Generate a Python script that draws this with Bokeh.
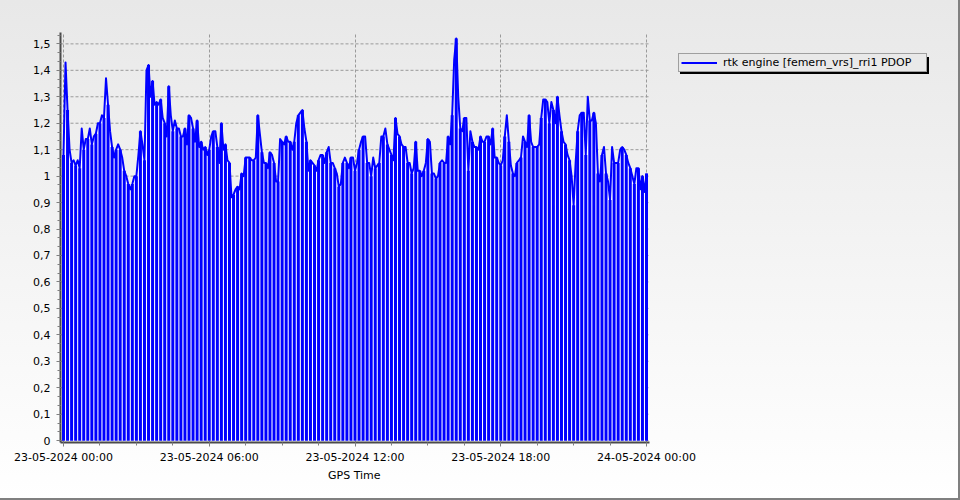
from bokeh.plotting import figure
from bokeh.models import Range1d, FixedTicker, Legend, LegendItem, Title
from bokeh.embed import file_html
from bokeh.resources import INLINE

# PDOP every 5 minutes, 23-05-2024 00:00 .. 24-05-2024 00:00 (one row per hour)
pdop = [
    1.08, 1.43, 1.25, 1.10, 1.05, 1.06, 1.04, 1.06, 1.03, 1.18, 1.10, 1.14,
    1.14, 1.18, 1.12, 1.15, 1.16, 1.20, 1.20, 1.23, 1.22, 1.37, 1.27, 1.17,
    1.11, 1.07, 1.10, 1.12, 1.10, 1.07, 1.02, 1.00, 0.97, 0.95, 0.97, 1.00,
    1.00, 1.08, 1.17, 1.12, 1.06, 1.40, 1.42, 1.30, 1.36, 1.27, 1.28, 1.27,
    1.29, 1.22, 1.20, 1.15, 1.34, 1.23, 1.17, 1.21, 1.18, 1.18, 1.15, 1.15,
    1.18, 1.12, 1.23, 1.22, 1.18, 1.13, 1.21, 1.11, 1.13, 1.10, 1.11, 1.08,
    1.10, 1.15, 1.17, 1.17, 1.11, 1.05, 1.20, 1.10, 1.12, 1.06, 1.05, 0.92,
    0.93, 0.95, 0.96, 0.95, 1.01, 1.00, 1.07, 1.07, 1.07, 1.06, 1.06, 1.07,
    1.23, 1.16, 1.09, 1.05, 1.05, 1.03, 1.09, 1.08, 1.05, 0.98, 0.98, 1.14,
    1.13, 1.12, 1.15, 1.13, 1.13, 1.10, 1.13, 1.20, 1.23, 1.24, 1.25, 1.18,
    1.13, 1.02, 1.06, 1.05, 1.04, 1.02, 1.06, 1.08, 1.08, 1.05, 1.09, 1.11,
    1.05, 1.05, 1.03, 1.01, 0.96, 0.97, 1.05, 1.07, 1.05, 1.03, 1.07, 1.07,
    1.02, 1.05, 1.10, 1.13, 1.15, 1.15, 1.05, 1.05, 1.00, 1.07, 1.03, 1.04,
    1.05, 1.15, 1.15, 1.18, 1.12, 1.10, 1.08, 1.06, 1.22, 1.16, 1.15, 1.12,
    1.11, 1.11, 1.05, 1.05, 1.01, 1.03, 1.13, 1.02, 1.02, 1.00, 1.02, 1.05,
    1.14, 1.13, 1.01, 1.01, 0.99, 1.00, 1.05, 1.06, 1.05, 1.05, 1.15, 1.12,
    1.23, 1.44, 1.52, 1.30, 1.18, 1.17, 1.22, 1.22, 1.02, 1.17, 1.13, 1.11,
    1.11, 1.10, 1.15, 1.13, 1.13, 1.15, 1.15, 1.12, 1.18, 1.07, 1.07, 1.05,
    1.04, 1.06, 1.15, 1.23, 1.13, 1.04, 1.01, 1.00, 1.05, 1.06, 1.07, 1.15,
    1.13, 1.11, 1.23, 1.13, 1.11, 1.11, 1.11, 1.12, 1.22, 1.29, 1.29, 1.28,
    1.20, 1.28, 1.25, 1.20, 1.30, 1.23, 1.17, 1.13, 1.12, 1.08, 1.06, 1.00,
    0.89, 1.05, 1.17, 1.23, 1.24, 1.24, 1.08, 1.30, 1.21, 1.21, 1.24, 1.20,
    1.01, 0.98, 1.08, 1.11, 1.01, 0.98, 0.91, 1.11, 1.05, 1.05, 1.05, 1.10,
    1.11, 1.10, 1.08, 1.05, 1.03, 1.00, 0.97, 1.03, 1.03, 0.95, 1.00, 0.94,
    1.01,
]
step_minutes = 5
hours = [i * step_minutes / 60 for i in range(len(pdop))]
bar_hours = hours[::2]
bar_pdop = pdop[::2]

series_label = "rtk engine [femern_vrs]_rri1 PDOP"
x_axis_title = "GPS Time"
x_ticks = [0, 6, 12, 18, 24]
x_tick_labels = ["23-05-2024 00:00", "23-05-2024 06:00", "23-05-2024 12:00",
                 "23-05-2024 18:00", "24-05-2024 00:00"]
y_ticks = [0, 0.1, 0.2, 0.3, 0.4, 0.5, 0.6, 0.7, 0.8, 0.9, 1, 1.1, 1.2, 1.3, 1.4, 1.5]
y_tick_labels = ["0", "0,1", "0,2", "0,3", "0,4", "0,5", "0,6", "0,7", "0,8", "0,9",
                 "1", "1,1", "1,2", "1,3", "1,4", "1,5"]

FONT = "DejaVu Sans"
BLUE = "#0000ff"

# axis extent (hours) and the extra room on the right that holds the legend
X0, X1 = -0.1235, 24.1235
PX_PER_H = 589 / (X1 - X0)
FRAME_W = 875

p = figure(frame_width=FRAME_W, frame_height=410,
           min_border_left=60, min_border_top=32, min_border_right=25, min_border_bottom=58,
           x_range=Range1d(X0, X0 + FRAME_W / PX_PER_H), y_range=Range1d(-0.007, 1.543),
           output_backend="svg", toolbar_location=None)
p.background_fill_color = None
p.border_fill_color = None
p.outline_line_color = None
p.styles = {"background": "linear-gradient(to bottom, #e8e8e8, #ffffff)",
            "box-shadow": "inset -2px -2px 0 #808080"}

# dashed grid limited to the plotting region
p.ygrid.visible = False
p.segment(x0=[X0] * len(y_ticks), x1=[X1] * len(y_ticks), y0=y_ticks, y1=y_ticks,
          line_color="#9a9a9a", line_dash="3 2", line_width=1)
p.xgrid.grid_line_color = "#9a9a9a"
p.xgrid.grid_line_dash = "3 2"

# white area below the curve, blue stripes, blue curve
p.varea(x=hours, y1=0, y2=pdop, fill_color="white")
p.vbar(x=bar_hours, top=bar_pdop, bottom=0, width=7.4 / 60, fill_color=BLUE, line_color=None)
main = p.line(hours, pdop, line_color=BLUE, line_width=2, line_join="round")
dummy = p.line(x=[], y=[], line_alpha=0)

# axes
p.xaxis.ticker = FixedTicker(ticks=x_ticks, minor_ticks=[i * 1.5 for i in range(17)])
p.xaxis.major_label_overrides = dict(zip(x_ticks, x_tick_labels))
p.xaxis.bounds = (X0, X1)
p.yaxis.ticker = FixedTicker(ticks=y_ticks, minor_ticks=[k / 30 for k in range(47)])
p.yaxis.major_label_overrides = dict(zip(y_ticks, y_tick_labels))

for ax in (p.xaxis, p.yaxis):
    ax.axis_line_color = "#4a4a4a"
    ax.axis_line_width = 2
    ax.major_tick_line_color = "#808080"
    ax.minor_tick_line_color = "#808080"
    ax.major_tick_in = 0
    ax.major_tick_out = 4
    ax.minor_tick_in = 0
    ax.minor_tick_out = 3
    ax.major_label_text_font = FONT
    ax.major_label_text_font_size = "11px"
    ax.major_label_text_color = "#000000"
p.xaxis.major_label_standoff = 4
p.yaxis.major_label_standoff = 6

# axis title centred under the time axis (not under the legend room)
title_w = 53
p.add_layout(Title(text=x_axis_title, align="left",
                   offset=(X1 - X0) * PX_PER_H / 2 - title_w / 2 - 0.5,
                   text_font=FONT, text_font_size="11px", text_font_style="normal",
                   text_color="#000000", standoff=0), "below")

# legend with shadow
def make_legend(renderer, label, loc, fill, border):
    return Legend(items=[LegendItem(label=label, renderers=[renderer])],
                  location=loc, padding=2, spacing=0, margin=0,
                  glyph_width=36, glyph_height=11, label_standoff=6,
                  label_width=201, label_height=11,
                  label_text_font=FONT, label_text_font_size="11px",
                  label_text_color="#000000",
                  background_fill_color=fill, background_fill_alpha=1,
                  border_line_color=border, border_line_width=1)

p.add_layout(make_legend(dummy, " ", (620, 368), "#000000", "#000000"))
p.add_layout(make_legend(main, series_label, (618, 370), "#e9e9e9", "#555555"))

open("out.html", "w").write(file_html(p, INLINE))
